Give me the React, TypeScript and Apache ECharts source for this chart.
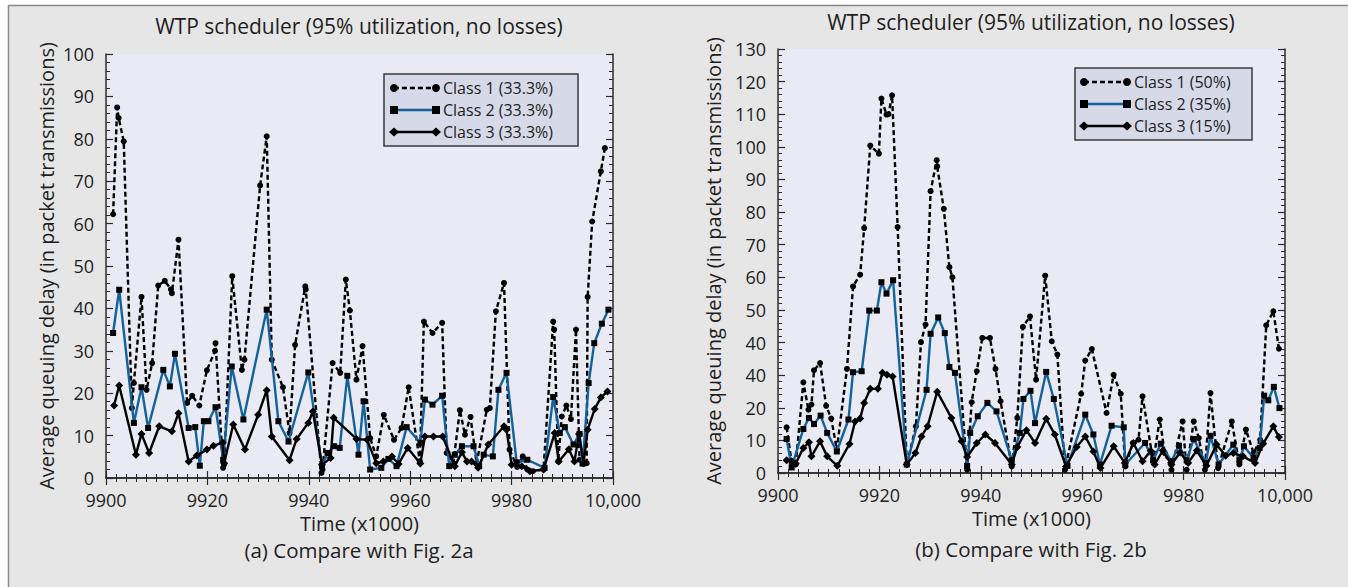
import React, { useEffect, useRef } from "react";
import * as echarts from "echarts";

const FONT = "'Open Sans', 'Noto Sans', sans-serif";

const chartTitle = "WTP scheduler (95% utilization, no losses)";
const yAxisTitle = "Average queuing delay (in packet transmissions)";
const xAxisTitle = "Time (x1000)";
const captions = ["(a) Compare with Fig. 2a", "(b) Compare with Fig. 2b"];

const xTickLabels = ["9900", "9920", "9940", "9960", "9980", "10,000"];
const leftYTickLabels = ["0", "10", "20", "30", "40", "50", "60", "70", "80", "90", "100"];
const rightYTickLabels = ["0", "10", "20", "40", "40", "50", "60", "70", "80", "90", "100", "110", "120", "130"];

const leftNames = ["Class 1 (33.3%)", "Class 2 (33.3%)", "Class 3 (33.3%)"];
const rightNames = ["Class 1 (50%)", "Class 2 (35%)", "Class 3 (15%)"];

const leftClass1 = [
  [9901.4, 62.2], [9902.2, 87.4], [9902.5, 84.9], [9903.5, 79.4], [9905.1, 16.5], [9905.5, 22.4],
  [9907.0, 42.7], [9908.0, 20.8], [9909.1, 27.1], [9910.3, 45.4], [9911.6, 46.5], [9912.8, 44.5],
  [9913.0, 43.6], [9914.3, 56.2], [9916.0, 17.7], [9917.0, 19.4], [9918.4, 17.1], [9919.9, 25.4],
  [9921.5, 30.0], [9921.6, 31.8], [9923.1, 2.4], [9923.3, 3.2], [9924.9, 47.6], [9926.8, 25.5],
  [9927.3, 27.9], [9930.4, 69.0], [9931.7, 80.6], [9932.7, 27.9], [9934.9, 21.4], [9936.2, 10.6],
  [9937.3, 31.4], [9939.3, 45.2], [9939.4, 44.5], [9942.5, 1.2], [9942.7, 2.0], [9944.7, 27.1],
  [9946.2, 24.8], [9947.3, 46.8], [9948.1, 39.5], [9949.4, 23.2], [9950.6, 31.1], [9952.1, 9.4],
  [9953.3, 5.1], [9954.8, 14.9], [9956.8, 9.0], [9958.3, 11.8], [9959.7, 21.4], [9961.9, 3.9],
  [9962.7, 36.9], [9964.4, 34.2], [9966.3, 36.6], [9967.2, 5.9], [9968.5, 3.5], [9969.8, 16.0],
  [9970.8, 10.2], [9971.9, 14.4], [9973.1, 3.5], [9975.1, 16.1], [9975.7, 16.5], [9976.9, 39.3],
  [9978.5, 46.0], [9979.6, 6.7], [9981.1, 2.6], [9982.2, 5.1], [9983.1, 2.0], [9984.2, 1.6],
  [9986.3, 2.0], [9988.2, 36.9], [9988.4, 35.0], [9989.2, 3.9], [9989.9, 14.5], [9990.8, 17.1],
  [9991.7, 13.9], [9992.7, 35.0], [9993.4, 4.3], [9994.8, 3.5], [9995.0, 42.7], [9995.9, 60.5],
  [9997.6, 72.3], [9998.4, 77.8],
];

const leftClass2 = [
  [9901.4, 34.2], [9902.6, 44.4], [9905.5, 13.0], [9907.0, 21.4], [9908.3, 11.8], [9911.3, 25.5],
  [9912.6, 21.6], [9913.6, 29.3], [9916.3, 11.8], [9917.6, 12.0], [9918.5, 2.9], [9919.3, 13.4],
  [9920.2, 13.4], [9921.6, 16.7], [9923.1, 4.3], [9924.8, 26.3], [9927.1, 13.8], [9931.7, 39.7],
  [9934.0, 13.4], [9936.0, 8.6], [9939.9, 24.9], [9942.6, 2.8], [9943.7, 5.9], [9945.0, 7.5],
  [9946.1, 7.1], [9947.6, 24.1], [9949.8, 5.5], [9950.8, 18.1], [9952.1, 2.0], [9954.3, 2.4],
  [9955.7, 4.5], [9957.3, 2.8], [9959.3, 12.0], [9962.0, 8.3], [9962.9, 18.5], [9964.4, 17.3],
  [9966.3, 19.4], [9967.7, 2.8], [9968.8, 5.5], [9970.2, 7.5], [9972.5, 7.5], [9973.6, 2.8],
  [9974.5, 5.5], [9976.3, 5.1], [9977.4, 20.8], [9979.0, 24.8], [9981.0, 3.7], [9983.1, 4.3],
  [9986.5, 2.4], [9988.2, 19.1], [9989.5, 10.6], [9990.5, 12.0], [9992.2, 7.9], [9993.4, 10.4],
  [9994.0, 3.4], [9995.2, 22.4], [9996.3, 31.8], [9997.8, 36.4], [9999.1, 39.7],
];

const leftClass3 = [
  [9901.6, 17.1], [9902.6, 21.8], [9905.9, 5.5], [9907.0, 10.4], [9908.5, 5.9], [9910.5, 12.2],
  [9913.0, 11.0], [9914.3, 15.3], [9916.3, 3.9], [9917.9, 5.3], [9919.9, 6.7], [9921.2, 7.6],
  [9923.0, 8.4], [9923.3, 3.5], [9925.1, 12.6], [9927.4, 6.7], [9930.0, 14.9], [9931.7, 20.7],
  [9932.7, 9.8], [9936.2, 4.2], [9937.6, 9.2], [9939.9, 13.0], [9940.8, 15.7], [9942.6, 3.1],
  [9944.3, 4.7], [9944.9, 14.2], [9949.4, 9.2], [9951.5, 9.0], [9953.3, 3.5], [9954.7, 3.9],
  [9956.4, 5.1], [9957.7, 3.3], [9959.5, 7.1], [9962.0, 3.4], [9962.9, 9.8], [9964.6, 9.8],
  [9966.4, 9.8], [9968.8, 2.8], [9970.2, 6.1], [9971.2, 3.9], [9972.1, 3.9], [9973.4, 2.4],
  [9975.4, 7.9], [9978.5, 12.2], [9979.0, 11.4], [9980.0, 3.1], [9982.0, 2.8], [9983.6, 1.6],
  [9986.3, 2.0], [9988.5, 10.6], [9989.3, 3.9], [9991.3, 6.8], [9992.4, 3.9], [9993.3, 10.4],
  [9994.2, 3.5], [9995.0, 11.4], [9996.4, 16.3], [9997.6, 19.0], [9998.9, 20.4],
];

const rightClass1 = [
  [9901.7, 14.0], [9902.7, 3.1], [9903.5, 2.6], [9905.0, 27.8], [9906.0, 19.4], [9906.6, 21.0],
  [9907.1, 31.5], [9908.3, 33.7], [9909.5, 20.6], [9910.5, 16.7], [9911.6, 7.2], [9913.6, 31.9],
  [9914.8, 57.2], [9916.2, 60.8], [9917.0, 75.1], [9918.2, 100.4], [9919.9, 97.9], [9920.4, 114.8],
  [9921.4, 109.9], [9921.8, 110.0], [9922.5, 115.8], [9923.6, 75.4], [9925.4, 2.6], [9927.2, 14.3],
  [9928.2, 40.1], [9929.1, 45.5], [9930.1, 86.4], [9931.3, 95.9], [9931.4, 94.0], [9932.7, 81.0],
  [9933.8, 63.1], [9934.4, 60.0], [9937.3, 1.0], [9938.2, 21.7], [9939.2, 31.2], [9940.3, 41.4],
  [9941.8, 41.4], [9942.9, 31.9], [9943.9, 22.0], [9946.1, 2.0], [9947.2, 16.9], [9948.3, 44.8],
  [9949.7, 48.0], [9950.9, 28.6], [9952.7, 60.5], [9954.0, 40.4], [9955.1, 36.3], [9956.6, 1.0],
  [9959.8, 24.3], [9960.6, 34.5], [9961.9, 38.0], [9964.8, 18.4], [9966.2, 30.1], [9967.6, 24.3],
  [9968.5, 2.0], [9970.0, 9.2], [9971.1, 10.2], [9971.9, 23.5], [9974.0, 3.6], [9975.3, 16.4],
  [9976.3, 6.1], [9977.6, 1.0], [9979.8, 15.8], [9980.6, 1.0], [9982.0, 15.8], [9983.0, 10.7],
  [9984.2, 1.0], [9985.3, 24.5], [9986.8, 1.5], [9989.5, 15.8], [9991.0, 2.6], [9992.3, 13.3],
  [9993.8, 6.1], [9995.1, 10.2], [9996.3, 45.3], [9997.7, 49.6], [9998.8, 38.1],
];

const rightClass2 = [
  [9901.7, 10.4], [9902.7, 1.7], [9905.0, 13.5], [9906.1, 16.9], [9907.1, 15.0], [9908.4, 17.6],
  [9909.7, 12.3], [9911.6, 6.6], [9913.9, 16.4], [9914.8, 30.9], [9916.5, 31.2], [9918.0, 49.8],
  [9919.5, 49.8], [9920.4, 58.5], [9921.4, 55.0], [9922.7, 59.1], [9925.4, 2.6], [9929.3, 25.5],
  [9930.1, 42.7], [9931.6, 47.7], [9932.9, 42.9], [9933.8, 32.5], [9934.9, 30.7], [9937.3, 2.2],
  [9937.9, 12.3], [9939.4, 17.4], [9941.3, 21.5], [9943.1, 18.9], [9946.1, 3.9], [9947.7, 12.3],
  [9948.4, 22.7], [9949.8, 25.2], [9950.7, 15.3], [9952.9, 31.0], [9954.4, 22.7], [9957.1, 2.2],
  [9960.6, 17.9], [9962.2, 11.8], [9963.5, 2.6], [9965.8, 14.5], [9968.2, 14.0], [9968.5, 2.6],
  [9972.4, 9.2], [9974.0, 3.9], [9975.5, 9.0], [9977.6, 3.6], [9979.1, 8.4], [9980.6, 3.9],
  [9982.0, 10.4], [9984.4, 3.1], [9985.3, 11.4], [9986.9, 2.6], [9989.8, 8.7], [9991.0, 3.9],
  [9991.9, 8.2], [9993.8, 4.6], [9995.0, 7.7], [9995.9, 23.7], [9996.7, 22.3], [9997.8, 26.4],
  [9998.9, 19.9],
];

const rightClass3 = [
  [9901.7, 3.9], [9902.7, 3.6], [9903.5, 2.9], [9905.0, 7.7], [9906.1, 9.4], [9906.6, 5.1],
  [9908.3, 9.7], [9909.7, 5.1], [9911.7, 2.2], [9914.1, 8.9], [9915.2, 15.8], [9916.2, 16.7],
  [9917.0, 21.5], [9918.2, 25.8], [9919.7, 25.8], [9920.6, 30.7], [9921.5, 30.1], [9922.6, 29.6],
  [9925.4, 2.6], [9927.1, 6.1], [9928.3, 11.2], [9929.5, 14.3], [9931.4, 24.9], [9934.2, 16.9],
  [9936.2, 9.7], [9937.3, 4.9], [9939.2, 9.2], [9940.9, 11.8], [9942.8, 9.2], [9946.1, 2.6],
  [9947.2, 8.0], [9949.0, 13.1], [9950.7, 9.2], [9952.9, 16.6], [9954.6, 11.8], [9956.8, 2.0],
  [9958.9, 8.0], [9960.6, 11.2], [9962.2, 6.6], [9963.6, 1.5], [9966.2, 8.2], [9968.4, 3.1],
  [9970.1, 9.2], [9971.9, 3.6], [9973.5, 6.8], [9974.3, 2.6], [9975.9, 6.9], [9977.6, 2.6],
  [9979.3, 6.3], [9980.9, 3.1], [9982.6, 6.9], [9984.5, 2.2], [9986.5, 8.7], [9988.3, 5.3],
  [9989.8, 6.1], [9991.7, 5.1], [9994.1, 3.1], [9995.7, 9.0], [9997.7, 14.3], [9998.8, 11.0],
];

const BLUE = "#13629c";
const AXIS = "#2b2b2b";
const TEXT = "#1e1e1e";

const TICK_FS = 18;
const NAME_FS = 20;

function xAxes(gridIndex: number) {
  const common = {
    type: "value",
    gridIndex,
    min: 9900,
    max: 10000,
    interval: 20,
    splitLine: { show: false },
    axisLine: { show: true, lineStyle: { color: AXIS, width: 1.5 } },
    axisTick: { show: true, inside: true, length: 7, lineStyle: { color: AXIS, width: 1.2 } },
    minorTick: { show: true, splitNumber: 10, length: 4, lineStyle: { color: AXIS, width: 1 } },
  };
  return [
    {
      ...common,
      position: "bottom",
      axisLabel: {
        show: true,
        margin: 13,
        fontSize: TICK_FS,
        fontFamily: FONT,
        color: TEXT,
        formatter: (v: number) => xTickLabels[Math.round((v - 9900) / 20)] ?? "",
      },
      name: xAxisTitle,
      nameLocation: "middle",
      nameGap: 35,
      nameTextStyle: { fontSize: NAME_FS, fontFamily: FONT, color: TEXT },
    },
    { ...common, position: "top", axisLabel: { show: false } },
  ];
}

function yAxes(gridIndex: number, max: number, labels: string[], nameGap: number) {
  const common = {
    type: "value",
    gridIndex,
    min: 0,
    max,
    interval: 10,
    splitLine: { show: false },
    axisLine: { show: true, lineStyle: { color: AXIS, width: 1.5 } },
    axisTick: { show: true, inside: true, length: 7, lineStyle: { color: AXIS, width: 1.2 } },
    minorTick: { show: true, splitNumber: 5, length: 4, lineStyle: { color: AXIS, width: 1 } },
  };
  return [
    {
      ...common,
      position: "left",
      axisLabel: {
        show: true,
        margin: 12,
        fontSize: TICK_FS,
        fontFamily: FONT,
        color: TEXT,
        formatter: (v: number) => labels[Math.round(v / 10)] ?? "",
      },
      name: yAxisTitle,
      nameLocation: "middle",
      nameGap,
      nameRotate: 90,
      nameTextStyle: { fontSize: NAME_FS, fontFamily: FONT, color: TEXT },
    },
    { ...common, position: "right", axisLabel: { show: false } },
  ];
}

function makeSeries(names: string[], data: number[][][], xi: number, yi: number) {
  return [
    {
      name: names[0],
      type: "line",
      xAxisIndex: xi,
      yAxisIndex: yi,
      data: data[0],
      symbol: "circle",
      symbolSize: 6,
      showAllSymbol: true,
      lineStyle: { color: "#000", width: 2.4, type: [5, 3] },
      itemStyle: { color: "#000" },
      z: 3,
    },
    {
      name: names[1],
      type: "line",
      xAxisIndex: xi,
      yAxisIndex: yi,
      data: data[1],
      symbol: "rect",
      symbolSize: 6,
      showAllSymbol: true,
      lineStyle: { color: BLUE, width: 2.4 },
      itemStyle: { color: "#000" },
      z: 4,
    },
    {
      name: names[2],
      type: "line",
      xAxisIndex: xi,
      yAxisIndex: yi,
      data: data[2],
      symbol: "diamond",
      symbolSize: 8,
      showAllSymbol: true,
      lineStyle: { color: "#000", width: 2.4 },
      itemStyle: { color: "#000" },
      z: 5,
    },
  ];
}

function legendGraphic(
  names: string[],
  box: { x: number; y: number; w: number; h: number },
  rows: number[],
  x1: number,
  x2: number,
  tx: number
) {
  const els: any[] = [
    {
      type: "rect",
      shape: { x: box.x, y: box.y, width: box.w, height: box.h },
      style: { fill: "#d5d9e8", stroke: "#3a3a3a", lineWidth: 1.5 },
      z: 20,
    },
  ];
  const marker = (kind: number, cx: number, cy: number) => {
    if (kind === 0) return { type: "circle", shape: { cx, cy, r: 4 }, style: { fill: "#000" }, z: 22 };
    if (kind === 1) return { type: "rect", shape: { x: cx - 4, y: cy - 4, width: 8, height: 8 }, style: { fill: "#000" }, z: 22 };
    return {
      type: "polygon",
      shape: { points: [[cx - 5, cy], [cx, cy - 4.5], [cx + 5, cy], [cx, cy + 4.5]] },
      style: { fill: "#000" },
      z: 22,
    };
  };
  names.forEach((n, i) => {
    const cy = rows[i];
    els.push({
      type: "line",
      shape: { x1, y1: cy, x2, y2: cy },
      style: {
        stroke: i === 1 ? BLUE : "#000",
        lineWidth: 2.4,
        lineDash: i === 0 ? [5, 3] : null,
      },
      z: 21,
    });
    els.push(marker(i, x1, cy));
    els.push(marker(i, x2, cy));
    els.push({
      type: "text",
      x: tx,
      y: cy,
      style: {
        text: n,
        font: `16px ${FONT}`,
        fill: TEXT,
        lineHeight: 17,
        textAlign: "left",
        textVerticalAlign: "middle",
        align: "left",
        verticalAlign: "middle",
      },
      z: 22,
    });
  });
  return els;
}

const titleStyle = { fontSize: 21, fontWeight: "normal", color: TEXT, fontFamily: FONT };
const captionStyle = { fontSize: 20.5, fontWeight: "normal", color: TEXT, fontFamily: FONT };

export default function App() {
  const ref = useRef<HTMLDivElement>(null);
  useEffect(() => {
    if (!ref.current) return;
    const chart = echarts.init(ref.current, undefined, { renderer: "svg" });
    const option: any = {
      animation: false,
      backgroundColor: "#e6e6e6",
      textStyle: { fontFamily: FONT },
      title: [
        { text: chartTitle, left: 359, top: 15, textAlign: "center", padding: 0, textStyle: titleStyle },
        { text: chartTitle, left: 1031, top: 11, textAlign: "center", padding: 0, textStyle: titleStyle },
        { text: captions[0], left: 359, top: 539, textAlign: "center", padding: 0, textStyle: captionStyle },
        { text: captions[1], left: 1031, top: 538, textAlign: "center", padding: 0, textStyle: captionStyle },
      ],
      grid: [
        { left: 106, top: 54, width: 507, height: 424, show: true, backgroundColor: "#e9eaf3", borderWidth: 0 },
        { left: 778, top: 49, width: 507, height: 424, show: true, backgroundColor: "#e9eaf3", borderWidth: 0 },
      ],
      xAxis: [...xAxes(0), ...xAxes(1)],
      yAxis: [...yAxes(0, 100, leftYTickLabels, 50), ...yAxes(1, 130, rightYTickLabels, 55)],
      series: [
        ...makeSeries(leftNames, [leftClass1, leftClass2, leftClass3], 0, 0),
        ...makeSeries(rightNames, [rightClass1, rightClass2, rightClass3], 2, 2),
      ],
      graphic: [
        { type: "rect", shape: { x: 0, y: 0, width: 1348, height: 5 }, style: { fill: "#ffffff" }, z: 1 },
        { type: "rect", shape: { x: 0, y: 0, width: 8, height: 587 }, style: { fill: "#ffffff" }, z: 1 },
        { type: "line", shape: { x1: 8, y1: 5.5, x2: 1348, y2: 5.5 }, style: { stroke: "#8a8a8a", lineWidth: 1.5 }, z: 2 },
        { type: "line", shape: { x1: 8.5, y1: 5, x2: 8.5, y2: 587 }, style: { stroke: "#8a8a8a", lineWidth: 1.5 }, z: 2 },
        ...legendGraphic(leftNames, { x: 384, y: 74, w: 194, h: 72 }, [88, 110, 132], 394, 436, 443),
        ...legendGraphic(rightNames, { x: 1075, y: 68, w: 177, h: 72 }, [82, 104, 126], 1084, 1127, 1134),
      ],
    };
    chart.setOption(option);
    return () => chart.dispose();
  }, []);
  return (
    <div
      ref={ref}
      style={{ position: "fixed", left: 0, top: 0, width: 1348, height: 587 }}
    />
  );
}
